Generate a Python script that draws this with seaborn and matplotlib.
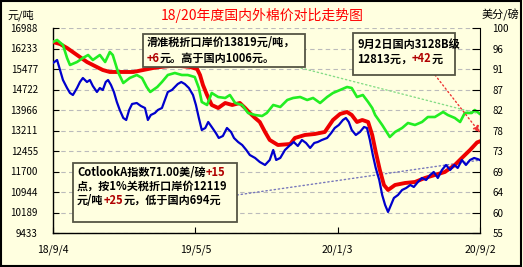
import numpy as np
import pandas as pd
import matplotlib
matplotlib.use("Agg")
import matplotlib.pyplot as plt
import seaborn as sns
from matplotlib.patches import Rectangle

# ---------------- data ----------------
START = pd.Timestamp("2018-09-04")

red_days = [0, 12, 24, 41, 58, 68, 85, 97, 120, 137, 154, 171, 183, 200, 217, 234, 246, 251, 256, 263,
            271, 282, 294, 306, 319, 328, 336, 345, 353, 362, 370, 384, 405, 413, 430, 447, 464, 478, 490, 502,
            510, 519, 528, 538, 545, 551, 558, 565, 572, 584, 601, 618, 635, 652, 669, 686, 698, 712, 724, 729]
red_vals = [16470, 16398, 16251, 15993, 15735, 15625, 15440, 15367, 15367, 15367, 15440, 15514, 15551, 15588,
            15588, 15551, 15477, 15256, 14888, 14519, 14151, 14040, 14224, 14151, 14224, 14040, 13856, 13672,
            13524, 13156, 12861, 12676, 12713, 12935, 13045, 13082, 13156, 13598, 13819, 13893, 13782, 13524,
            13598, 13524, 13045, 12419, 11755, 11203, 11018, 11203, 11276, 11313, 11461, 11571, 11682, 11940,
            12198, 12492, 12771, 12813]

green_days = [0, 7, 17, 24, 29, 41, 51, 60, 68, 80, 89, 97, 102, 111, 120, 131, 143, 152, 160, 166,
              178, 186, 196, 208, 220, 230, 242, 249, 254, 263, 271, 282, 294, 302, 311, 323, 333, 345, 357, 365,
              376, 388, 400, 410, 422, 434, 444, 456, 468, 478, 490, 502, 510, 519, 529, 538, 545, 550, 562, 575,
              584, 596, 606, 618, 630, 640, 652, 666, 674, 686, 695, 703, 715, 720, 729]
green_vals = [16472, 16546, 16362, 15883, 15625, 15735, 15883, 15993, 15809, 15993, 15735, 16104, 15993, 15367,
              14961, 15146, 15256, 15146, 14814, 14630, 14814, 14998, 15256, 15330, 15256, 15256, 15182, 14777,
              14261, 14151, 14593, 14445, 14409, 14519, 14224, 14151, 13856, 13782, 13745, 13856, 14151, 14077,
              14335, 14409, 14445, 14335, 14409, 14224, 14445, 14593, 14703, 14814, 14777, 14445, 14519, 14261,
              14040, 13782, 13414, 12971, 13156, 13303, 13487, 13414, 13524, 13708, 13708, 13893, 13782, 13672,
              13524, 13856, 13856, 13966, 13819]

blue_days = [0, 7, 12, 17, 24, 29, 34, 41, 46, 51, 58, 63, 68, 75, 80, 85, 90, 94, 99, 104,
             109, 114, 120, 125, 130, 135, 143, 150, 157, 162, 167, 174, 179, 186, 191, 196, 203, 208, 213, 219,
             225, 232, 239, 244, 249, 254, 260, 265, 271, 278, 283, 290, 297, 304, 309, 316, 323, 330, 336, 345,
             353, 362, 370, 376, 381, 388, 396, 405, 411, 418, 425, 432, 439, 446, 452, 459, 468, 475, 481, 488,
             495, 500, 505, 510, 517, 524, 531, 536, 541, 546, 551, 557, 562, 567, 572, 577, 582, 589, 596, 603,
             610, 616, 623, 630, 637, 644, 650, 657, 664, 671, 678, 685, 691, 698, 705, 712, 719, 726, 729]
blue_vals = [15698, 15809, 15440, 15072, 14777, 14593, 14519, 14777, 14998, 15146,
             14998, 15072, 14851, 14630, 14777, 14703, 14998, 15072, 14888, 14630,
             14261, 13966, 13672, 13598, 13966, 14188, 14224, 14114, 14040, 13598,
             13782, 13856, 13966, 14040, 14335, 14630, 14703, 14814, 14924, 14998,
             14924, 14777, 14519, 14151, 13672, 13229, 13303, 13524, 13340, 13119,
             12935, 13008, 13303, 13156, 12935, 12787, 12676, 12492, 12308, 12198,
             12050, 11940, 12124, 12492, 12124, 12198, 12492, 12676, 12787, 12640,
             12861, 12750, 12566, 12750, 12787, 12861, 12935, 13119, 13303, 13414,
             13598, 13672, 13524, 13229, 13045, 13156, 13340, 13303, 12861, 12308,
             11829, 11387, 10834, 10466, 10208, 10466, 10724, 10834, 11018, 11092,
             11203, 11129, 11313, 11461, 11387, 11571, 11682, 11461, 11755, 11940,
             11755, 11940, 11829, 12124, 11940, 12124, 12198, 12150, 12119]

left_ticks = [9433, 10188.5, 10944, 11699.5, 12455, 13210.5, 13966, 14721.5, 15477, 16232.5, 16988]
left_labels = ["9433", "10189", "10944", "11700", "12455", "13211", "13966", "14722", "15477", "16233", "16988"]
right_ticks = [55, 59.5, 64, 68.5, 73, 77.5, 82, 86.5, 91, 95.5, 100]
right_labels = ["55", "60", "64", "69", "73", "78", "82", "87", "91", "96", "100"]
x_tick_dates = ["2018-09-04", "2019-05-05", "2020-01-03", "2020-09-02"]
x_tick_labels = ["18/9/4", "19/5/5", "20/1/3", "20/9/2"]

title = "18/20年度国内外棉价对比走势图"
box1 = [[("滑准税折口岸价13819元/吨，", "black")],
        [("+6", "#B00000"), ("元。高于国内1006元。", "black")]]
box2 = [[("9月2日国内3128B级", "black")],
        [("12813元，", "black"), ("+42", "#B00000"), ("元", "black")]]
box3 = [[("CotlookA指数71.00美/磅", "black"), ("+15", "#B00000")],
        [("点，按1%关税折口岸价12119", "black")],
        [("元/吨", "black"), ("+25", "#B00000"), ("元，低于国内694元", "black")]]

# ---------------- figure ----------------
W, H = 523, 267
BG = "#FFFFE0"
plt.rcParams['font.family'] = ['Noto Sans CJK SC', 'DejaVu Sans']

def mk(days, vals):
    return pd.DataFrame({"date": START + pd.to_timedelta(days, unit="D"), "value": vals})

red = mk(red_days, red_vals)
green = mk(green_days, green_vals)
blue = mk(blue_days, blue_vals)

fig = plt.figure(figsize=(W / 100, H / 100), dpi=100, facecolor=BG)
ax = fig.add_axes([53 / W, 34 / H, 427 / W, 205 / H])
ax.set_facecolor(BG)

sns.lineplot(data=red, x="date", y="value", ax=ax, color="#EE0000", lw=2.8, zorder=3)
sns.lineplot(data=green, x="date", y="value", ax=ax, color="#22EE22", lw=1.9, zorder=4)
sns.lineplot(data=blue, x="date", y="value", ax=ax, color="#0000CC", lw=1.6, zorder=5)

xt = pd.to_datetime(x_tick_dates)
ax.set_xlim(xt[0], xt[-1])
ax.set_ylim(left_ticks[0], left_ticks[-1])
ax.set_xticks(xt)
ax.set_xticklabels(x_tick_labels)
ax.set_yticks(left_ticks)
ax.set_yticklabels(left_labels)
ax.set_xlabel("")
ax.set_ylabel("")
ax.grid(axis="y", color="#BBBBBB", linestyle=(0, (4, 3)), lw=0.8)
ax.grid(axis="x", visible=False)
ax.tick_params(axis="y", direction="in", length=4, pad=11, labelsize=7, colors="black")
ax.tick_params(axis="x", direction="in", length=4, pad=8, labelsize=7.5)
ax.spines["top"].set_visible(False)
ax.spines["right"].set_visible(False)
for s in ["left", "bottom"]:
    ax.spines[s].set_color("black")
    ax.spines[s].set_linewidth(1.0)

ax2 = ax.twinx()
ax2.set_ylim(right_ticks[0], right_ticks[-1])
ax2.set_yticks(right_ticks)
ax2.set_yticklabels(right_labels)
ax2.tick_params(axis="y", direction="in", length=6, pad=9, labelsize=7)
ax2.spines["top"].set_visible(False)
ax2.spines["left"].set_visible(False)
ax2.spines["bottom"].set_visible(False)
ax2.spines["right"].set_color("black")

def ff(x, y):
    return (x / W, 1 - y / H)

# leader lines
end_d = xt[-1]
ax.annotate("", xy=(end_d, green_vals[-1]), xycoords="data", xytext=ff(297, 67), textcoords="figure fraction",
            arrowprops=dict(arrowstyle="-", linestyle=(0, (1, 2)), color="#88DD88", lw=1.0,
                            shrinkA=0, shrinkB=0), annotation_clip=False, zorder=2)
ax.annotate("", xy=(end_d, blue_vals[-1]), xycoords="data", xytext=ff(237, 195), textcoords="figure fraction",
            arrowprops=dict(arrowstyle="-", linestyle=(0, (1, 2)), color="#7777BB", lw=1.0,
                            shrinkA=0, shrinkB=0), annotation_clip=False, zorder=2)
ax2.annotate("", xy=(end_d, 77.0), xycoords="data", xytext=ff(435, 75), textcoords="figure fraction",
             arrowprops=dict(arrowstyle="-|>,head_length=0.4,head_width=0.2", linestyle=(0, (1, 2)),
                             color="#EE3333", lw=1.0, shrinkA=0, shrinkB=0),
             annotation_clip=False, zorder=6)

# boxes
def box(x0, y0, x1, y1):
    r = Rectangle(ff(x0, y1), (x1 - x0) / W, (y1 - y0) / H, transform=fig.transFigure,
                  facecolor=BG, edgecolor="#555544", lw=1.3, zorder=10, clip_on=False)
    ax2.add_patch(r)

def rich(x, y, lh, lines, size):
    for i, segs in enumerate(lines):
        prev = None
        for txt, col in segs:
            kw = dict(color=col, fontsize=size, fontweight="bold", zorder=12, annotation_clip=False)
            if prev is None:
                prev = ax2.annotate(txt, xy=ff(x, y + i * lh), xycoords="figure fraction",
                                    va="center", ha="left", **kw)
            else:
                prev = ax2.annotate(txt, xy=(1, 0), xycoords=prev, va="bottom", ha="left", **kw)

box(143, 34, 305, 67)
rich(147, 43, 15, box1, 8)
box(353, 33, 455, 75)
rich(357, 44, 15, box2, 8)
box(73, 163, 237, 222)
rich(77, 172, 14, box3, 8)

# header texts
fig.text(262 / W, 1 - 15 / H, title, color="#FF0000", fontsize=10, ha="center", va="center")
fig.text(8 / W, 1 - 15 / H, "元/吨", color="black", fontsize=8, ha="left", va="center")
fig.text(519 / W, 1 - 15 / H, "美分/磅", color="black", fontsize=8, ha="right", va="center")

# outer border
fig.add_artist(Rectangle((0.002, 0.004), 0.995, 0.992, transform=fig.transFigure, fill=False,
                         edgecolor="black", lw=1.5))

fig.savefig("out.png", dpi=100, facecolor=BG)
